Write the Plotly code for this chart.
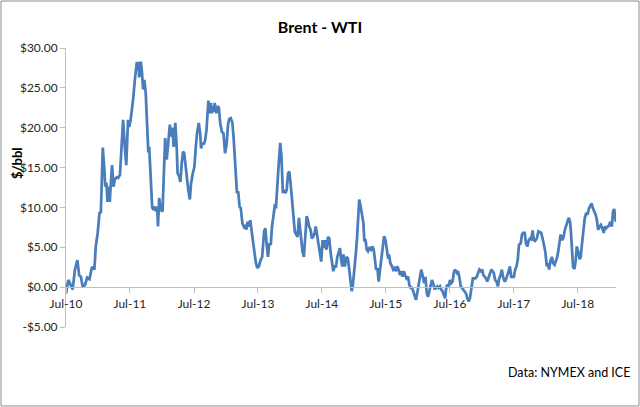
import plotly.graph_objects as go

# weekly-ish Brent minus WTI spread, $/bbl
dates = [
    "2010-07-01", "2010-07-14", "2010-07-23", "2010-08-08", "2010-08-21", "2010-09-04", "2010-09-14", "2010-09-24",
    "2010-10-05", "2010-10-18", "2010-10-30", "2010-11-12", "2010-11-25", "2010-12-04", "2010-12-10", "2010-12-18",
    "2010-12-29", "2011-01-08", "2011-01-16", "2011-01-22", "2011-01-27", "2011-02-04", "2011-02-10", "2011-02-17",
    "2011-02-23", "2011-03-01", "2011-03-08", "2011-03-14", "2011-03-21", "2011-03-29", "2011-04-06", "2011-04-16",
    "2011-04-25", "2011-05-05", "2011-05-14", "2011-05-23", "2011-06-03", "2011-06-10", "2011-06-20", "2011-06-27",
    "2011-07-05", "2011-07-12", "2011-07-19", "2011-07-29", "2011-08-09", "2011-08-18", "2011-08-23", "2011-09-01",
    "2011-09-08", "2011-09-14", "2011-09-21", "2011-09-29", "2011-10-08", "2011-10-14", "2011-10-19", "2011-10-27",
    "2011-11-05", "2011-11-12", "2011-11-20", "2011-11-27", "2011-12-04", "2011-12-08", "2011-12-15", "2011-12-23",
    "2012-01-03", "2012-01-08", "2012-01-18", "2012-01-27", "2012-02-04", "2012-02-14", "2012-02-21", "2012-02-28",
    "2012-03-07", "2012-03-16", "2012-03-24", "2012-03-29", "2012-04-07", "2012-04-14", "2012-04-22", "2012-04-29",
    "2012-05-06", "2012-05-14", "2012-05-22", "2012-05-29", "2012-06-07", "2012-06-14", "2012-06-24", "2012-07-03",
    "2012-07-11", "2012-07-18", "2012-07-28", "2012-08-05", "2012-08-10", "2012-08-18", "2012-08-26", "2012-09-03",
    "2012-09-10", "2012-09-18", "2012-09-21", "2012-09-29", "2012-10-05", "2012-10-11", "2012-10-16", "2012-10-22",
    "2012-10-27", "2012-11-05", "2012-11-12", "2012-11-20", "2012-11-27", "2012-12-07", "2012-12-16", "2012-12-25",
    "2013-01-03", "2013-01-11", "2013-01-18", "2013-01-27", "2013-02-05", "2013-02-12", "2013-02-20", "2013-02-27",
    "2013-03-03", "2013-03-10", "2013-03-18", "2013-03-25", "2013-04-03", "2013-04-11", "2013-04-18", "2013-04-25",
    "2013-05-03", "2013-05-10", "2013-05-18", "2013-05-26", "2013-06-03", "2013-06-10", "2013-06-18", "2013-06-27",
    "2013-07-06", "2013-07-16", "2013-07-25", "2013-08-05", "2013-08-12", "2013-08-20", "2013-08-27", "2013-09-04",
    "2013-09-12", "2013-09-19", "2013-09-27", "2013-10-05", "2013-10-12", "2013-10-19", "2013-10-27", "2013-11-05",
    "2013-11-12", "2013-11-20", "2013-11-27", "2013-12-04", "2013-12-12", "2013-12-20", "2013-12-27", "2014-01-05",
    "2014-01-12", "2014-01-19", "2014-01-27", "2014-02-05", "2014-02-12", "2014-02-20", "2014-02-27", "2014-03-04",
    "2014-03-12", "2014-03-20", "2014-03-27", "2014-04-05", "2014-04-12", "2014-04-19", "2014-04-27", "2014-05-05",
    "2014-05-12", "2014-05-20", "2014-05-27", "2014-06-04", "2014-06-12", "2014-06-20", "2014-06-27", "2014-07-05",
    "2014-07-12", "2014-07-19", "2014-07-27", "2014-08-05", "2014-08-12", "2014-08-20", "2014-08-27", "2014-09-04",
    "2014-09-12", "2014-09-20", "2014-09-27", "2014-10-05", "2014-10-12", "2014-10-19", "2014-10-25", "2014-11-01",
    "2014-11-09", "2014-11-18", "2014-11-26", "2014-12-03", "2014-12-10", "2014-12-18", "2014-12-25", "2015-01-03",
    "2015-01-11", "2015-01-18", "2015-01-25", "2015-01-30", "2015-02-09", "2015-02-16", "2015-02-23", "2015-02-28",
    "2015-03-07", "2015-03-14", "2015-03-21", "2015-03-29", "2015-04-07", "2015-04-14", "2015-04-22", "2015-04-29",
    "2015-05-06", "2015-05-14", "2015-05-21", "2015-05-29", "2015-06-06", "2015-06-14", "2015-06-21", "2015-06-29",
    "2015-07-06", "2015-07-14", "2015-07-19", "2015-07-27", "2015-08-05", "2015-08-12", "2015-08-20", "2015-08-27",
    "2015-09-04", "2015-09-12", "2015-09-20", "2015-09-27", "2015-10-05", "2015-10-12", "2015-10-19", "2015-10-27",
    "2015-11-05", "2015-11-12", "2015-11-20", "2015-11-27", "2015-12-04", "2015-12-12", "2015-12-20", "2015-12-27",
    "2016-01-05", "2016-01-12", "2016-01-19", "2016-01-27", "2016-02-05", "2016-02-12", "2016-02-20", "2016-02-27",
    "2016-03-04", "2016-03-12", "2016-03-20", "2016-03-27", "2016-04-05", "2016-04-12", "2016-04-19", "2016-04-27",
    "2016-05-05", "2016-05-12", "2016-05-20", "2016-05-27", "2016-06-04", "2016-06-08", "2016-06-16", "2016-06-24",
    "2016-07-01", "2016-07-08", "2016-07-16", "2016-07-23", "2016-07-30", "2016-08-09", "2016-08-16", "2016-08-23",
    "2016-09-01", "2016-09-08", "2016-09-16", "2016-09-24", "2016-10-01", "2016-10-08", "2016-10-16", "2016-10-23",
    "2016-10-30", "2016-11-09", "2016-11-16", "2016-11-23", "2016-12-01", "2016-12-08", "2016-12-16", "2016-12-24",
    "2017-01-01", "2017-01-08", "2017-01-16", "2017-01-23", "2017-01-30", "2017-02-09", "2017-02-16", "2017-02-23",
    "2017-03-01", "2017-03-08", "2017-03-16", "2017-03-24", "2017-04-01", "2017-04-08", "2017-04-16", "2017-04-23",
    "2017-04-30", "2017-05-09", "2017-05-16", "2017-05-23", "2017-06-01", "2017-06-08", "2017-06-16", "2017-06-24",
    "2017-07-01", "2017-07-08", "2017-07-16", "2017-07-23", "2017-07-30", "2017-08-09", "2017-08-16", "2017-08-23",
    "2017-09-01", "2017-09-08", "2017-09-16", "2017-09-24", "2017-10-01", "2017-10-08", "2017-10-16", "2017-10-23",
    "2017-10-30", "2017-11-09", "2017-11-18", "2017-11-27", "2017-12-04", "2017-12-12", "2017-12-20", "2017-12-27",
    "2018-01-05", "2018-01-12", "2018-01-18", "2018-01-25", "2018-02-03", "2018-02-10", "2018-02-18", "2018-02-25",
    "2018-03-03", "2018-03-10", "2018-03-18", "2018-03-25", "2018-04-03", "2018-04-11", "2018-04-18", "2018-04-25",
    "2018-05-03", "2018-05-10", "2018-05-18", "2018-05-23", "2018-05-29", "2018-06-04", "2018-06-12", "2018-06-18",
    "2018-06-25", "2018-07-03", "2018-07-11", "2018-07-18", "2018-07-25", "2018-08-03", "2018-08-10", "2018-08-18",
    "2018-08-26", "2018-09-03", "2018-09-10", "2018-09-18", "2018-09-25", "2018-10-03", "2018-10-11", "2018-10-18",
    "2018-10-25", "2018-11-03", "2018-11-10", "2018-11-18", "2018-11-26", "2018-12-03", "2018-12-10", "2018-12-18",
    "2018-12-25", "2019-01-03", "2019-01-11", "2019-01-18", "2019-01-25", "2019-02-03",
]

spread = [
    -0.8, 0.9, 0.5, -0.3, 2.2, 3.4, 1.5, 1.3,
    0.0, 0.3, 1.2, 1.0, 2.4, 2.5, 2.2, 5.1,
    6.8, 9.3, 9.4, 13.1, 17.5, 15.1, 12.6, 13.1,
    10.7, 12.6, 10.7, 13.1, 15.3, 12.6, 13.5, 13.8,
    13.7, 14.1, 17.2, 21.0, 17.2, 15.3, 21.0, 20.1,
    21.0, 22.2, 23.5, 26.0, 28.1, 28.1, 26.3, 28.3,
    26.9, 24.8, 26.0, 24.4, 20.1, 16.9, 17.6, 13.5,
    10.0, 9.7, 10.1, 9.5, 10.1, 7.6, 11.2, 9.7,
    9.5, 12.6, 18.7, 16.0, 17.6, 20.4, 18.9, 20.0,
    17.6, 20.6, 17.6, 14.3, 13.9, 13.2, 15.6, 17.0,
    16.8, 15.1, 14.1, 12.2, 11.0, 13.0, 14.3, 15.1,
    17.6, 19.3, 20.6, 19.3, 17.4, 18.1, 17.9, 18.5,
    19.7, 21.8, 23.4, 21.8, 23.1, 21.8, 22.7, 22.0,
    23.1, 21.8, 22.7, 22.5, 20.6, 19.5, 19.3, 16.8,
    17.9, 20.4, 21.1, 21.2, 20.6, 18.7, 16.0, 13.9,
    11.8, 12.0, 10.1, 9.9, 8.0, 7.6, 7.8, 7.2,
    8.2, 7.6, 8.4, 7.0, 5.5, 4.0, 3.2, 2.4,
    2.6, 3.4, 3.8, 7.0, 7.4, 5.3, 3.8, 5.5,
    5.3, 7.6, 8.9, 10.2, 10.1, 12.0, 15.3, 18.1,
    16.4, 11.8, 12.2, 11.8, 12.2, 14.3, 14.5, 12.6,
    11.0, 9.3, 7.0, 6.6, 6.3, 8.7, 7.2, 5.5,
    4.5, 3.8, 6.8, 8.9, 8.4, 7.6, 7.2, 6.1,
    6.3, 6.8, 7.6, 6.6, 5.3, 4.3, 3.2, 5.9,
    4.9, 5.9, 4.7, 6.3, 6.1, 4.3, 3.4, 2.0,
    2.6, 2.6, 3.8, 4.5, 4.9, 3.4, 2.6, 4.1,
    2.6, 3.8, 3.6, 2.4, 0.9, -0.5, 0.3, 2.2,
    4.3, 6.3, 9.3, 11.0, 9.9, 8.9, 8.0, 5.9,
    5.9, 4.7, 4.5, 4.9, 4.7, 5.1, 4.8, 3.6,
    2.2, 2.4, 0.7, 2.2, 3.8, 5.5, 6.4, 5.9,
    4.5, 3.6, 4.1, 3.0, 2.6, 2.2, 2.4, 2.0,
    2.6, 2.2, 1.5, 2.0, 1.3, 2.0, 1.5, 1.1,
    1.3, 0.3, -0.1, -0.1, -0.5, -1.0, -1.6, -0.8,
    0.5, 1.8, 2.2, 1.5, 0.5, 1.3, -0.8, -1.2,
    -0.5, 0.3, 0.9, 0.5, -0.3, -0.1, 0.1, -0.1,
    0.1, -0.3, -0.5, -1.0, -1.4, -0.3, 0.3, 0.1,
    0.9, 0.5, 0.7, 1.8, 2.2, 1.8, 2.0, 1.3,
    0.1, -0.1, -0.3, -0.5, -0.8, -1.4, -1.8, -1.4,
    -0.1, 1.1, 1.1, 1.1, 1.3, 1.8, 2.2, 2.0,
    2.2, 1.5, 1.3, 1.1, 0.7, 1.5, 1.8, 2.2,
    2.0, 1.8, 0.9, 0.7, 0.1, 1.1, 1.5, 2.2,
    1.3, 0.7, 0.9, 1.3, 2.0, 2.6, 1.3, 1.3,
    1.3, 2.2, 2.6, 3.4, 5.3, 5.5, 6.6, 6.8,
    6.8, 5.5, 5.1, 5.9, 6.1, 6.0, 7.1, 5.9,
    5.8, 6.1, 7.0, 6.9, 6.8, 6.1, 5.3, 4.5,
    2.6, 3.0, 2.2, 3.2, 3.8, 3.0, 2.8, 3.2,
    3.6, 4.3, 5.3, 6.6, 5.9, 6.3, 7.2, 7.8,
    8.2, 8.7, 8.2, 6.8, 3.6, 2.5, 2.3, 3.2,
    5.1, 4.5, 3.5, 3.8, 5.5, 7.2, 8.7, 9.3,
    9.1, 9.9, 10.3, 10.5, 9.9, 9.5, 9.1, 8.4,
    7.2, 7.6, 7.8, 7.4, 6.8, 7.6, 7.4, 7.6,
    7.7, 8.2, 7.6, 9.5, 9.8, 8.2,
]

year_ticks = ["2010-07-01", "2011-07-01", "2012-07-01", "2013-07-01", "2014-07-01",
              "2015-07-01", "2016-07-01", "2017-07-01", "2018-07-01"]
year_labels = ["Jul-10", "Jul-11", "Jul-12", "Jul-13", "Jul-14",
               "Jul-15", "Jul-16", "Jul-17", "Jul-18"]
price_ticks = [-5, 0, 5, 10, 15, 20, 25, 30]
price_labels = ["-$5.00", "$0.00", "$5.00", "$10.00", "$15.00", "$20.00", "$25.00", "$30.00"]

FONT = "Lato, 'Open Sans', sans-serif"
Y_MIN, Y_MAX = -5, 30

fig = go.Figure()
fig.add_trace(go.Scatter(
    x=dates, y=spread, mode="lines",
    line=dict(color="#4A7EBB", width=2.75),
    showlegend=False,
))

fig.update_layout(
    width=640, height=407,
    margin=dict(l=66, r=24, t=48, b=80),
    paper_bgcolor="white", plot_bgcolor="white",
    font=dict(family=FONT, size=12, color="#262626"),
    title=dict(text="<b>Brent - WTI</b>", x=0.5, xref="container", xanchor="center",
               y=1 - 27 / 407, yref="container", yanchor="middle",
               font=dict(family=FONT, size=16, color="black")),
    xaxis=dict(
        type="date",
        range=["2010-07-01", "2019-02-04"],
        tickmode="array", tickvals=year_ticks, ticktext=year_labels,
        anchor="free", position=(0 - Y_MIN) / (Y_MAX - Y_MIN),
        showline=True, linecolor="#BFBFBF", linewidth=1,
        ticks="outside", ticklen=5, tickcolor="#BFBFBF",
        showgrid=False, zeroline=False,
        tickfont=dict(family=FONT, size=12, color="#262626"),
    ),
    yaxis=dict(
        range=[Y_MIN, Y_MAX],
        tickmode="array", tickvals=price_ticks, ticktext=price_labels,
        showline=True, linecolor="#BFBFBF", linewidth=1,
        ticks="outside", ticklen=5, tickcolor="#BFBFBF",
        showgrid=False, zeroline=False,
        tickfont=dict(family=FONT, size=12, color="#262626"),
    ),
)

# y axis title, placed like Excel does it
fig.add_annotation(
    text="<b>$/bbl</b>", textangle=-90, showarrow=False,
    xref="paper", yref="paper", x=(17 - 66) / 550, y=(327 - 163) / 279,
    xanchor="center", yanchor="middle",
    font=dict(family=FONT, size=13, color="black"),
)

fig.add_annotation(
    text="Data: NYMEX and ICE", showarrow=False,
    xref="paper", yref="paper", x=(632 - 66) / 550, y=(327 - 372) / 279,
    xanchor="right", yanchor="middle",
    font=dict(family=FONT, size=12.5, color="black"),
)

# chart border
fig.add_shape(
    type="rect", xref="paper", yref="paper",
    x0=(1 - 66) / 550, x1=(639 - 66) / 550,
    y0=(327 - 406) / 279, y1=(327 - 1) / 279,
    line=dict(color="#8C8C8C", width=1),
)

# the page body has a default 8px margin; drop it so the figure sits at 0,0
fig.write_html("out.html", config={"displayModeBar": False},
               post_script="document.body.style.margin='0px';")
